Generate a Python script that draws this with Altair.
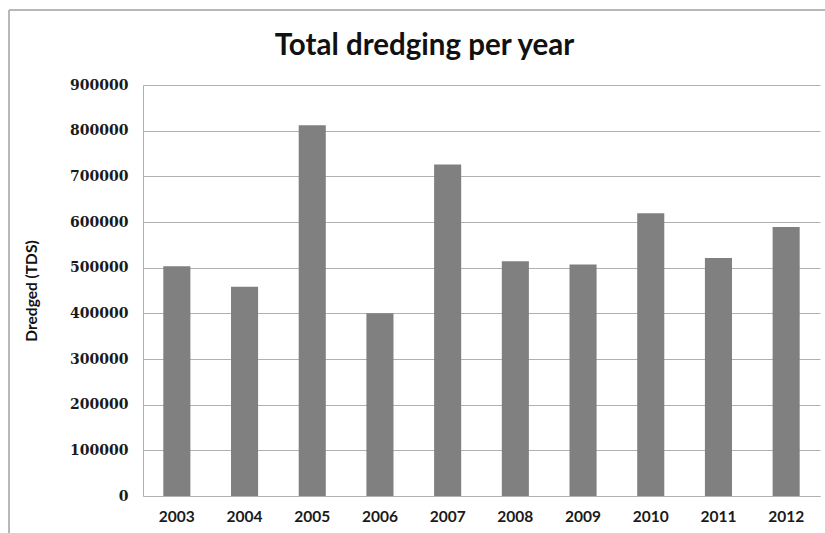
import altair as alt
import pandas as pd

# Annual dredged quantities (tonnes dry solids)
years = ["2003", "2004", "2005", "2006", "2007", "2008", "2009", "2010", "2011", "2012"]
dredged = [503000, 458000, 812000, 400000, 726000, 514000, 507000, 619000, 521000, 589000]
y_ticks = [0, 100000, 200000, 300000, 400000, 500000, 600000, 700000, 800000, 900000]

df = pd.DataFrame({"year": years, "dredged": dredged})

GRID = "#b0b0b0"
FRAME = "#b8b8b8"

bars = alt.Chart(df).mark_bar(color="#808080").encode(
    x=alt.X(
        "year:N",
        sort=years,
        scale=alt.Scale(paddingInner=0.6, paddingOuter=0.3),
        axis=alt.Axis(
            title=None,
            labelAngle=0,
            labelFont="Lato",
            labelFontWeight="bold",
            labelFontSize=15.5,
            labelColor="#1a1a1a",
            labelPadding=13,
            ticks=False,
            domainColor=GRID,
            grid=False,
        ),
    ),
    y=alt.Y(
        "dredged:Q",
        scale=alt.Scale(domain=[0, 900000], nice=False),
        axis=alt.Axis(
            title="Dredged (TDS)",
            values=y_ticks,
            format="d",
            labelFont="DejaVu Serif",
            labelFontWeight="bold",
            labelFontSize=14,
            labelColor="#1a1a1a",
            labelPadding=15,
            ticks=False,
            domainColor=GRID,
            gridColor=GRID,
            titleFont="Lato",
            titleFontWeight="bold",
            titleFontSize=15.5,
            titleColor="#111111",
            titleBaseline="middle",
            titleX=-112,
        ),
    ),
)

# Outer frame lines (left and top edges of the chart box)
frame_left = alt.Chart(df).mark_rule(color=FRAME, strokeWidth=1.2).encode(
    x=alt.value(-134), y=alt.value(-75), y2=alt.value(460)
)
frame_top = alt.Chart(df).mark_rule(color=FRAME, strokeWidth=1.2).encode(
    x=alt.value(-134), x2=alt.value(700), y=alt.value(-75)
)

chart = (
    alt.layer(frame_left, frame_top, bars)
    .properties(
        width=677,
        height=411,
        autosize=alt.AutoSizeParams(type="none"),
        padding={"left": 143, "top": 85, "right": 5, "bottom": 37},
        title=alt.TitleParams(
            "Total dredging per year",
            font="Lato",
            fontWeight="bold",
            fontSize=29.5,
            color="#111111",
            anchor="middle",
            frame="group",
            baseline="alphabetic",
            dx=-57,
            offset=-74.6,
        ),
    )
    .configure_view(stroke=None)
    .configure_axis(gridWidth=1, domainWidth=1)
)

chart.save("out.html", embed_options={"renderer": "svg", "actions": False})
